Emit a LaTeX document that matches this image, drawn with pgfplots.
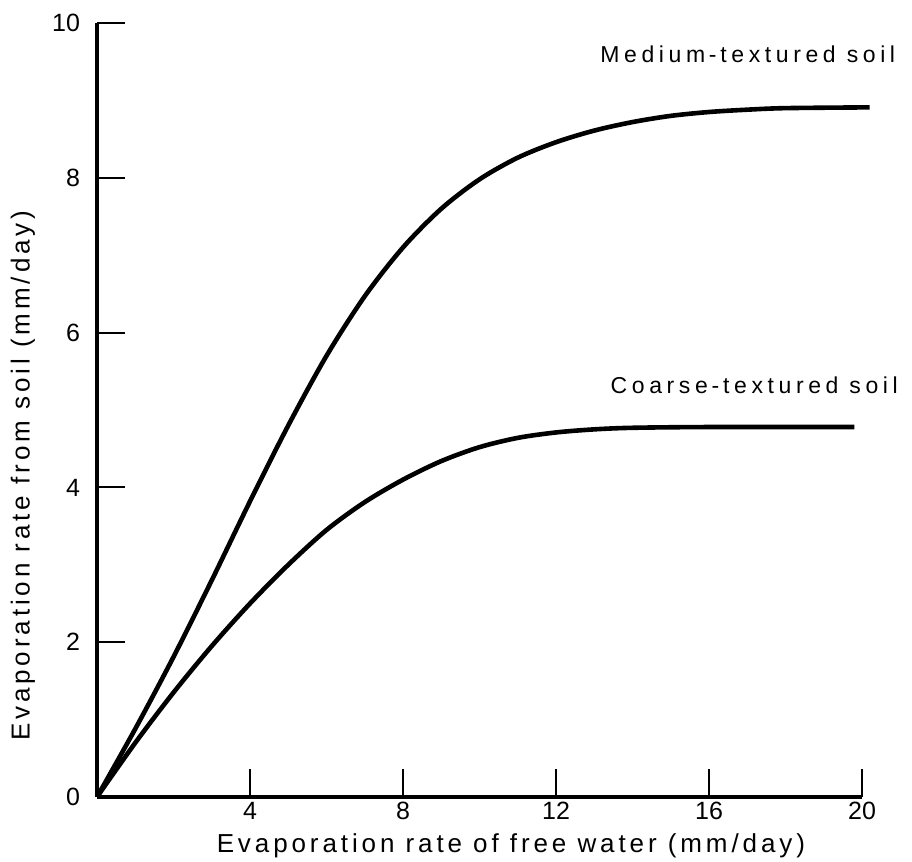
\documentclass[border=0pt]{standalone}
\usepackage{fontspec}
\setmainfont{Liberation Sans}
\newfontfamily\lettering{Liberation Sans}[LetterSpace=15]
\newfontfamily\annlettering{Liberation Sans}[LetterSpace=20]
\usepackage{pgfplots}
\pgfplotsset{compat=1.18}
\usetikzlibrary{calc}
\pgfplotstableread{
x y
0 0
1 0.88
2 1.81
3 2.8
4 3.82
5 4.8
6 5.7
7 6.47
8 7.1
9 7.6
10 7.98
11 8.26
12 8.46
13 8.61
14 8.72
15 8.8
16 8.85
17 8.88
18 8.9
20.2 8.91
}\medium
\pgfplotstableread{
x y
0 0
1 0.7
2 1.35
3 1.95
4 2.5
5 3.0
6 3.45
7 3.81
8 4.1
9 4.34
10 4.52
11 4.64
12 4.71
13 4.75
14 4.77
16 4.78
19.8 4.78
}\coarse
\begin{document}
\begin{tikzpicture}
\begin{axis}[
  name=ax,
  scale only axis,
  width=382.5pt, height=387pt,
  xmin=0, xmax=20, ymin=0, ymax=10,
  axis lines=left,
  axis line style={line width=2pt, -},
  xtick={4,8,12,16,20},
  ytick={0,2,4,6,8,10},
  tick style={line width=1pt, black},
  major tick length=14pt,
  tick align=inside,
  ticklabel style={font=\fontsize{12.5}{14}\selectfont},
  /pgf/number format/assume math mode=true,
  yticklabel style={xshift=-5pt},
  xticklabel style={yshift=1pt},
  xlabel={\lettering Evaporation rate of free water (mm/day)},
  ylabel={\lettering Evaporation rate from soil (mm/day)},
  label style={font=\fontsize{13}{15}\selectfont},
  xlabel style={at={(axis description cs:0.541,0)}, anchor=center, yshift=-24.5pt},
  ylabel style={at={(axis description cs:-0.097,0.415)}, anchor=center},
  clip=false,
]
\addplot[black, line width=2.3pt, smooth, tension=0.5] table {\medium};
\addplot[black, line width=2.3pt, smooth, tension=0.5] table {\coarse};
\node[anchor=east, font=\annlettering\fontsize{11.5}{14}\selectfont] at (axis cs:21.05,9.59) {Medium\,-\,textured soil};
\node[anchor=east, font=\annlettering\fontsize{11.5}{14}\selectfont] at (axis cs:21.12,5.32) {Coarse\,-\,textured soil};
\end{axis}
\pgfresetboundingbox
\path[use as bounding box] ($(ax.south west)+(-48.5pt,-32pt)$) rectangle ($(ax.north east)+(25pt,11.5pt)$);
\end{tikzpicture}
\end{document}
